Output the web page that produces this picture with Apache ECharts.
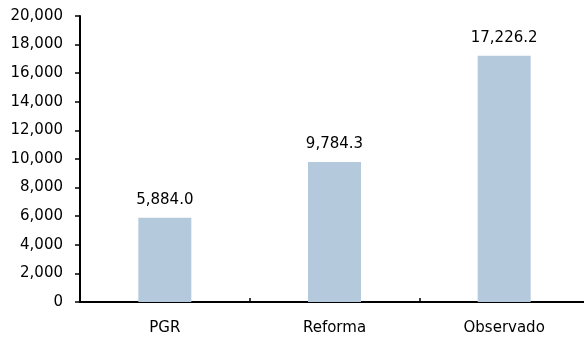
<!DOCTYPE html>
<html><head><meta charset="utf-8">
<script src="https://cdn.jsdelivr.net/npm/echarts@6/dist/echarts.min.js"></script>
<style>html,body{margin:0;padding:0;background:#fff;overflow:hidden;width:584px;height:343px}#c{width:589px;height:343px}</style>
</head><body><div id="c"></div>
<script>
const categories = ["PGR", "Reforma", "Observado"];
const values = [5884.0, 9784.3, 17226.2];
const yTicks = [0, 2000, 4000, 6000, 8000, 10000, 12000, 14000, 16000, 18000, 20000];

const font = "DejaVu Sans, Verdana, sans-serif";
const chart = echarts.init(document.getElementById('c'), null, {renderer: 'canvas'});
chart.setOption({
  animation: false,
  grid: {left: 80, right: 0, top: 16, bottom: 41, containLabel: false},
  xAxis: {
    type: 'category', data: categories,
    axisLine: {lineStyle: {color: '#000', width: 2}},
    axisTick: {show: true, inside: true, alignWithLabel: false, length: 4, lineStyle: {color: '#000', width: 1.5}},
    axisLabel: {color: '#000', fontFamily: font, fontSize: 15, margin: 19}
  },
  yAxis: {
    type: 'value', min: yTicks[0], max: yTicks[yTicks.length - 1], interval: 2000,
    splitLine: {show: false},
    axisLine: {show: true, lineStyle: {color: '#000', width: 2}},
    axisTick: {show: true, length: 5, lineStyle: {color: '#000', width: 1.5}},
    axisLabel: {color: '#000', fontFamily: font, fontSize: 15, margin: 17,
      formatter: v => v.toLocaleString('en-US')}
  },
  series: [{
    type: 'bar', data: values, barWidth: 53,
    itemStyle: {color: '#B4C9DB'},
    label: {show: true, position: 'top', distance: 10, color: '#000', fontFamily: font, fontSize: 15,
      formatter: p => p.value.toLocaleString('en-US', {minimumFractionDigits: 1, maximumFractionDigits: 1})}
  }]
});
</script></body></html>
